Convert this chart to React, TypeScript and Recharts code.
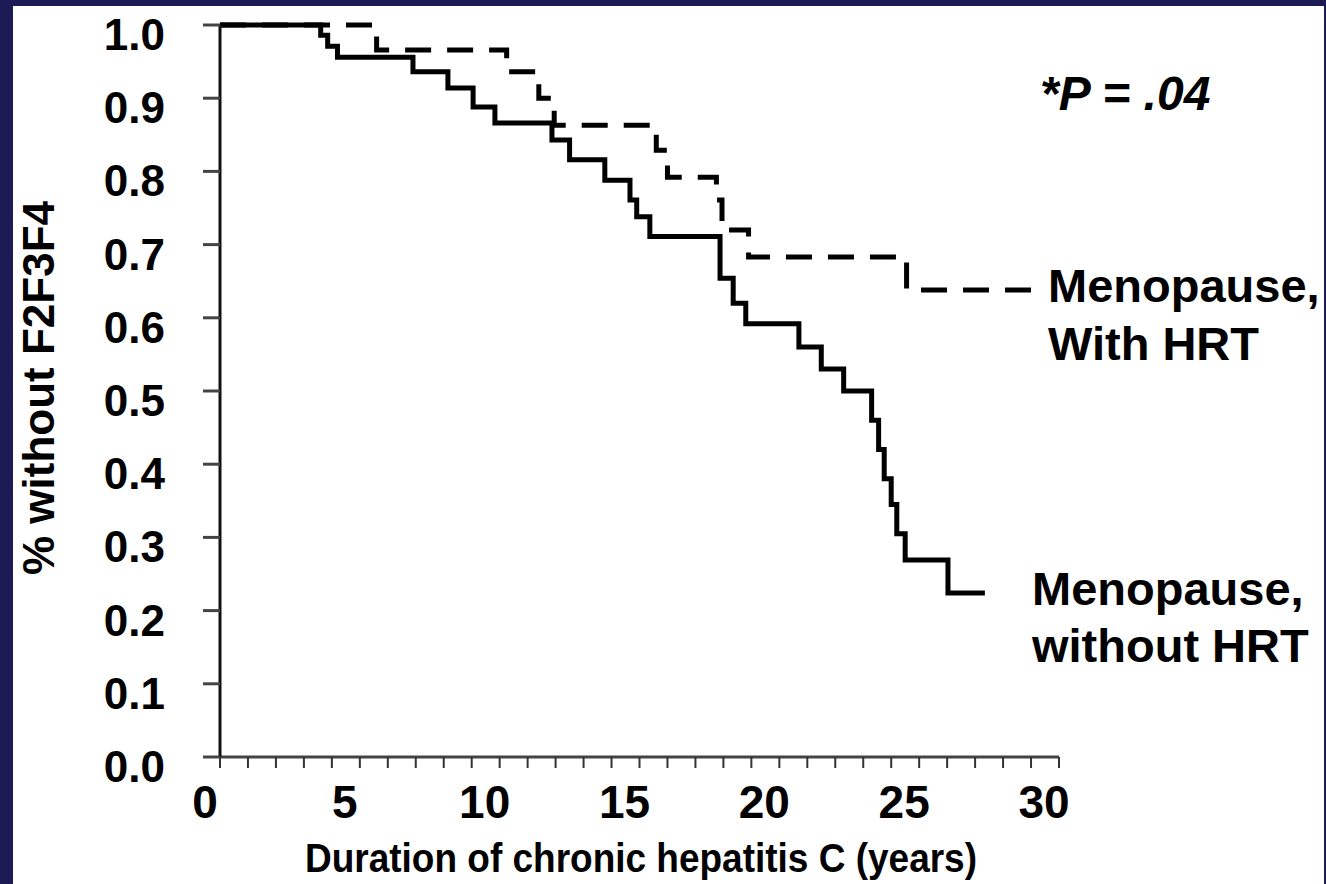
import { LineChart, Line, XAxis, YAxis } from 'recharts'

// Kaplan-Meier style curves
const withoutHrtYears = [0, 3.6, 3.85, 4.2, 6.9, 8.15, 9.05, 9.83, 11.87, 12.5, 13.76, 14.66, 14.9, 15.37, 17.88, 18.35, 18.8, 20.7, 21.5, 22.3, 23.3, 23.55, 23.75, 24.0, 24.2, 24.5, 26.03, 27.35]
const withoutHrtSurvival = [1.0, 0.986, 0.971, 0.956, 0.936, 0.914, 0.888, 0.866, 0.843, 0.816, 0.788, 0.761, 0.738, 0.711, 0.654, 0.62, 0.592, 0.56, 0.53, 0.5, 0.46, 0.42, 0.38, 0.345, 0.305, 0.269, 0.224, 0.224]

const withHrtYears = [0, 5.6, 10.25, 11.4, 11.95, 15.6, 16.0, 17.75, 17.95, 18.9, 24.55, 29.3]
const withHrtSurvival = [1.0, 0.966, 0.936, 0.9, 0.863, 0.829, 0.792, 0.761, 0.72, 0.683, 0.638, 0.638]

const xTicks = [0, 1, 2, 3, 4, 5, 6, 7, 8, 9, 10, 11, 12, 13, 14, 15, 16, 17, 18, 19, 20, 21, 22, 23, 24, 25, 26, 27, 28, 29, 30]
const xLabeled = [0, 5, 10, 15, 20, 25, 30]
const yTicks = [0, 0.1, 0.2, 0.3, 0.4, 0.5, 0.6, 0.7, 0.8, 0.9, 1.0]

const withoutHrt = withoutHrtYears.map((t, i) => ({ t, v: withoutHrtSurvival[i] }))
const withHrt = withHrtYears.map((t, i) => ({ t, v: withHrtSurvival[i] }))

const NAVY = '#1c1b55'
const FONT = '"Liberation Sans", Arial, Helvetica, sans-serif'

function YTick({ x, y, payload }: any) {
  return (
    <text x={x} y={y + 25} textAnchor="end" fontSize={44} fontWeight="bold" fontFamily={FONT} fill="#000">
      {Number(payload.value).toFixed(1)}
    </text>
  )
}

function XTick({ x, y, payload }: any) {
  if (!xLabeled.includes(payload.value)) return <g />
  return (
    <text x={x - 15} y={y + 48} textAnchor="middle" fontSize={46} fontWeight="bold" fontFamily={FONT} fill="#000">
      {payload.value}
    </text>
  )
}

export default function App() {
  return (
    <div style={{ position: 'fixed', left: 0, top: 0, width: 1326, height: 884, background: NAVY }}>
      <div style={{ position: 'absolute', left: 13, top: 6, width: 1311, height: 878, background: '#fff', overflow: 'hidden' }}>
        <div style={{ position: 'absolute', left: -13, top: -6, width: 1326, height: 884 }}>
          <LineChart width={1326} height={884} margin={{ top: 25, right: 267, bottom: 67, left: 100 }}>
            <XAxis
              dataKey="t"
              type="number"
              domain={[0, 30]}
              ticks={xTicks}
              interval={0}
              height={60}
              tickSize={11}
              tick={<XTick />}
              axisLine={{ stroke: '#444', strokeWidth: 3 }}
              tickLine={{ stroke: '#333', strokeWidth: 2 }}
            />
            <YAxis
              type="number"
              domain={[0, 1]}
              ticks={yTicks}
              interval={0}
              width={120}
              tickSize={17}
              tickMargin={38}
              tick={<YTick />}
              axisLine={{ stroke: '#111', strokeWidth: 3 }}
              tickLine={{ stroke: '#444', strokeWidth: 3 }}
            />
            <Line
              data={withHrt}
              dataKey="v"
              type="stepAfter"
              stroke="#000"
              strokeWidth={5}
              strokeDasharray="26 16"
              dot={false}
              activeDot={false}
              isAnimationActive={false}
            />
            <Line
              data={withoutHrt}
              dataKey="v"
              type="stepAfter"
              stroke="#000"
              strokeWidth={5}
              dot={false}
              activeDot={false}
              isAnimationActive={false}
            />
          </LineChart>
          <svg width={1326} height={884} style={{ position: 'absolute', left: 0, top: 0, pointerEvents: 'none' }}>
            <g fontFamily={FONT} fontWeight="bold" fill="#000">
              <text x={1040} y={110} fontSize={48} fontStyle="italic">*P = .04</text>
              <text x={1048} y={302} fontSize={47}>Menopause,</text>
              <text x={1048} y={360} fontSize={47}>With HRT</text>
              <text x={1032} y={605} fontSize={47}>Menopause,</text>
              <text x={1032} y={662} fontSize={47}>without HRT</text>
              <text x={641} y={872} fontSize={40} textAnchor="middle" textLength={672} lengthAdjust="spacingAndGlyphs">
                Duration of chronic hepatitis C (years)
              </text>
              <text x={54} y={388} fontSize={44} textAnchor="middle" transform="rotate(-90, 54, 388)">
                % without F2F3F4
              </text>
            </g>
          </svg>
        </div>
      </div>
    </div>
  )
}
